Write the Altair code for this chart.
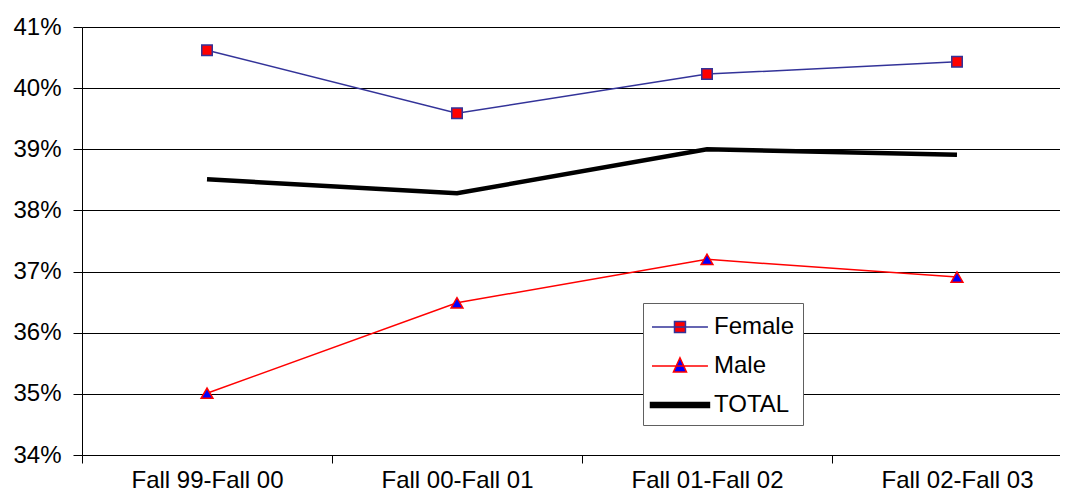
import json
import altair as alt
import pandas as pd

categories = ["Fall 99-Fall 00", "Fall 00-Fall 01", "Fall 01-Fall 02", "Fall 02-Fall 03"]
female = [0.4062, 0.3959, 0.4023, 0.4043]
male = [0.3501, 0.3649, 0.3720, 0.3691]
total = [0.3851, 0.3828, 0.3900, 0.3891]
series_names = ["Female", "Male", "TOTAL"]
y_ticks = [0.34, 0.35, 0.36, 0.37, 0.38, 0.39, 0.40, 0.41]

rows = []
for name, vals in zip(series_names, [female, male, total]):
    for i, (c, v) in enumerate(zip(categories, vals)):
        rows.append({"period": c, "idx": i, "series": name, "value": v})
df = pd.DataFrame(rows)

FONT = "Liberation Sans"
FS = 24

# tick marks sit on category boundaries; labels are shifted to band centres
boundaries = [i - 0.5 for i in range(len(categories))]
label_expr = json.dumps(categories) + "[round(datum.value + 0.5)]"

x_enc = alt.X(
    "idx:Q",
    title=None,
    scale=alt.Scale(domain=[-0.5, 3.412], nice=False, zero=False),
    axis=alt.Axis(values=boundaries, labelExpr=label_expr, labelOffset=125,
                  labelFlush=False, labelOverlap=False, labelAngle=0,
                  tickSize=8, tickColor="black", domainColor="black",
                  labelFontSize=FS, labelColor="black", labelPadding=5,
                  grid=False, labelFont=FONT),
)
y_enc = alt.Y(
    "value:Q",
    title=None,
    scale=alt.Scale(domain=[0.34, 0.41], nice=False, zero=False),
    axis=alt.Axis(values=y_ticks, format=".0%", grid=True, gridColor="black",
                  gridOpacity=1, gridWidth=1, tickSize=9, tickColor="black",
                  domainColor="black", labelFontSize=FS, labelColor="black",
                  labelPadding=12, labelFont=FONT),
)

base = alt.Chart(df).encode(x=x_enc, y=y_enc)

total_line = base.transform_filter(alt.datum.series == "TOTAL").mark_line(
    color="black", strokeWidth=4.5)
female_line = base.transform_filter(alt.datum.series == "Female").mark_line(
    color="#333399", strokeWidth=1.5)
male_line = base.transform_filter(alt.datum.series == "Male").mark_line(
    color="#ff0000", strokeWidth=1.5)
female_pts = base.transform_filter(alt.datum.series == "Female").mark_point(
    shape="square", filled=True, fill="#ff0000", stroke="#333399",
    strokeWidth=1.5, size=110, opacity=1)
male_pts = base.transform_filter(alt.datum.series == "Male").mark_point(
    shape="triangle-up", filled=True, fill="#0000ff", stroke="#ff0000",
    strokeWidth=1.5, size=140, opacity=1)

path_f = "M-1,0H2.73M0.5,-0.37H1.23V0.37H0.5Z"
path_m = "M-1,0H2.73M0.865,-0.55L1.3,0.4H0.43Z"
path_t = "M-1.1,-0.17H2.83V0.17H-1.1Z"

leg = alt.Legend(orient="none", legendX=561, legendY=276, title=None,
                 labelFontSize=24, labelFont=FONT, labelColor="black",
                 symbolSize=900, symbolStrokeWidth=1.5, symbolOpacity=1,
                 rowPadding=11, padding=8, labelOffset=31,
                 fillColor="white", strokeColor="#606060")

legend_layer = base.mark_point(opacity=0).encode(
    shape=alt.Shape("series:N", scale=alt.Scale(domain=series_names, range=[path_f, path_m, path_t]), legend=leg),
    fill=alt.Fill("series:N", scale=alt.Scale(domain=series_names, range=["#ff0000", "#0000ff", "#000000"]), legend=leg),
    stroke=alt.Stroke("series:N", scale=alt.Scale(domain=series_names, range=["#333399", "#ff0000", "#000000"]), legend=leg),
)

chart = alt.layer(
    female_line, male_line, total_line, female_pts, male_pts, legend_layer
).properties(
    width=978, height=428,
    autosize=alt.AutoSizeParams(type="none"),
    padding={"left": 74, "top": 19, "right": 0, "bottom": 38},
).configure_view(strokeWidth=0).configure(font=FONT)

chart.save("out.html", embed_options={"renderer": "svg", "actions": False})
